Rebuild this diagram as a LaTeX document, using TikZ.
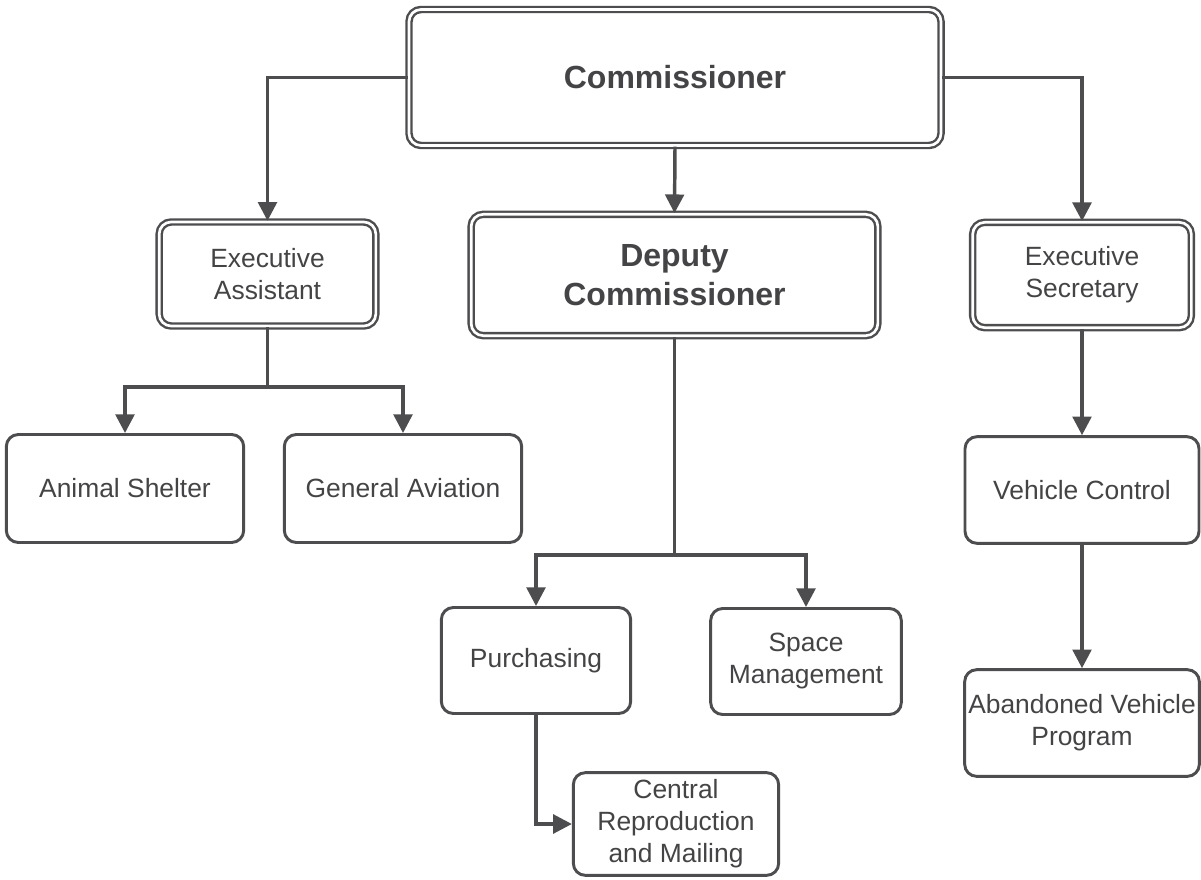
\documentclass[tikz,border=0pt]{standalone}
\usepackage{fontspec}
\setmainfont{Liberation Sans}
\usetikzlibrary{arrows.meta}
\definecolor{ink}{HTML}{4D4D50}
\definecolor{txt}{HTML}{444446}
\begin{document}
\begin{tikzpicture}[x=0.75pt,y=-0.75pt,
  base/.style={rounded corners=9pt, inner sep=0pt, align=center, text=txt,
    font=\fontsize{19.8}{24}\selectfont, fill=white},
  single/.style={base, draw=ink, line width=2.2pt},
  dbl/.style={base, draw=ink, line width=1.8pt, double=white, double distance=2pt},
  big/.style={font=\fontsize{24}{29}\selectfont\bfseries},
  conn/.style={draw=ink, line width=2.6pt},
  arr/.style={conn, -{Triangle[length=14pt,width=14pt]}}]
\useasboundingbox[fill=white] (0,0) rectangle (1201,880);

\node[dbl, big, minimum width=399pt, minimum height=102pt] (comm) at (675,77.5) {Commissioner};
\node[dbl, minimum width=162.5pt, minimum height=78pt] (ea) at (267.5,274) {Executive\\Assistant};
\node[dbl, big, minimum width=305pt, minimum height=91pt] (dep) at (674.5,275) {Deputy\\Commissioner};
\node[dbl, minimum width=164pt, minimum height=79pt] (es) at (1082,275) {Executive\\Secretary};

\node[single, minimum width=178pt, minimum height=81pt] (as) at (125,488.5) {Animal Shelter};
\node[single, minimum width=178pt, minimum height=81pt] (ga) at (403,488.5) {General Aviation};
\node[single, minimum width=175.5pt, minimum height=80pt] (vc) at (1082,490) {Vehicle Control};
\node[single, minimum width=142pt, minimum height=79.5pt] (pur) at (536,660.5) {Purchasing};
\node[single, minimum width=143pt, minimum height=79.5pt] (sm) at (806,661.5) {Space\\Management};
\node[single, minimum width=154pt, minimum height=77pt] (crm) at (676,824) {Central\\Reproduction\\and Mailing};
\node[single, minimum width=176pt, minimum height=80pt] (avp) at (1082,723) {Abandoned Vehicle\\Program};

\coordinate (j1) at (267.5,387);
\coordinate (j2) at (674.5,555);

\draw[arr] (comm.west) -| (ea.north);
\draw[arr] (comm.south) -- (dep.north);
\draw[arr] (comm.east) -| (es.north);

\draw[conn] (ea.south) -- (j1);
\draw[arr] (j1) -| (as.north);
\draw[arr] (j1) -| (ga.north);

\draw[conn] (dep.south) -- (j2);
\draw[arr] (j2) -| (pur.north);
\draw[arr] (j2) -| (sm.north);

\draw[arr] (pur.south) |- (crm.west);

\draw[arr] (es.south) -- (vc.north);
\draw[arr] (vc.south) -- (avp.north);
\end{tikzpicture}
\end{document}
